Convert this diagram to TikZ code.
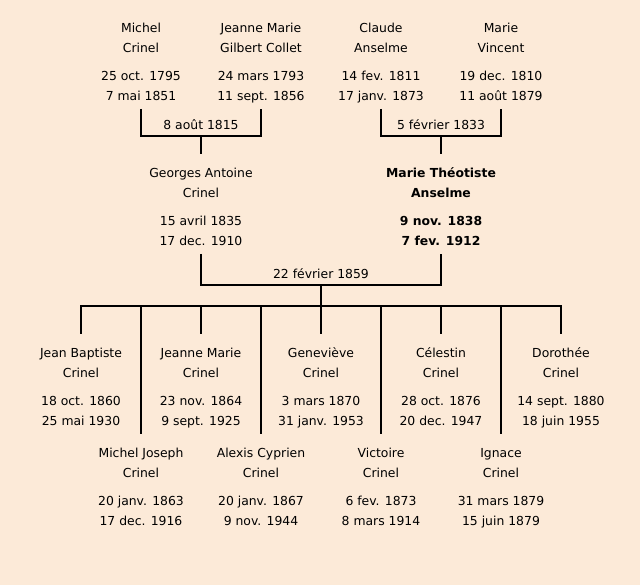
\documentclass[tikz,border=0pt]{standalone}
\usepackage{fontspec}
\setmainfont{DejaVu Sans}
\definecolor{bgc}{RGB}{252,234,216}
\newcommand{\persontext}[4]{\rule{0pt}{18.5pt}#1\\#2\\[8pt]#3\\#4\rule[-3.5pt]{0pt}{3.5pt}}
\tikzset{
  person/.style={anchor=north, align=center, inner sep=0pt, outer xsep=0pt, outer ysep=5pt,
    font=\fontsize{12.4}{20}\selectfont},
  boldperson/.style={person, font=\fontsize{12.4}{20}\selectfont\bfseries},
  datelabel/.style={anchor=base, inner sep=0pt, font=\fontsize{12.4}{14}\selectfont},
  link/.style={draw=black, line width=2pt}
}
\begin{document}
\begin{tikzpicture}[x=1pt,y=-1pt]
\fill[bgc] (0,0) rectangle (640,585);
\useasboundingbox (0,0) rectangle (640,585);
% grandparents
\node[person] (michel) at (141,9) {\persontext{Michel}{Crinel}{25 oct. 1795}{7 mai 1851}};
\node[person] (jeanne) at (261,9) {\persontext{Jeanne Marie}{Gilbert Collet}{24 mars 1793}{11 sept. 1856}};
\node[person] (claude) at (381,9) {\persontext{Claude}{Anselme}{14 fev. 1811}{17 janv. 1873}};
\node[person] (vincent) at (501,9) {\persontext{Marie}{Vincent}{19 dec. 1810}{11 août 1879}};
% parents
\node[person] (georges) at (201,154) {\persontext{Georges Antoine}{Crinel}{15 avril 1835}{17 dec. 1910}};
\node[boldperson] (theotiste) at (441,154) {\persontext{Marie Théotiste}{Anselme}{9 nov. 1838}{7 fev. 1912}};
% children row 1
\node[person] (jb) at (81,334) {\persontext{Jean Baptiste}{Crinel}{18 oct. 1860}{25 mai 1930}};
\node[person] (jm) at (201,334) {\persontext{Jeanne Marie}{Crinel}{23 nov. 1864}{9 sept. 1925}};
\node[person] (gen) at (321,334) {\persontext{Geneviève}{Crinel}{3 mars 1870}{31 janv. 1953}};
\node[person] (cel) at (441,334) {\persontext{Célestin}{Crinel}{28 oct. 1876}{20 dec. 1947}};
\node[person] (dor) at (561,334) {\persontext{Dorothée}{Crinel}{14 sept. 1880}{18 juin 1955}};
% children row 2
\node[person] (mj) at (141,434) {\persontext{Michel Joseph}{Crinel}{20 janv. 1863}{17 dec. 1916}};
\node[person] (ac) at (261,434) {\persontext{Alexis Cyprien}{Crinel}{20 janv. 1867}{9 nov. 1944}};
\node[person] (vic) at (381,434) {\persontext{Victoire}{Crinel}{6 fev. 1873}{8 mars 1914}};
\node[person] (ign) at (501,434) {\persontext{Ignace}{Crinel}{31 mars 1879}{15 juin 1879}};
% marriages
\coordinate (u1) at (201,136);
\coordinate (u2) at (441,136);
\coordinate (u3) at (321,285);
\coordinate (c) at (321,306);
\draw[link] (michel.south) |- (u1) -| (jeanne.south);
\draw[link] (u1) -- (georges.north);
\draw[link] (claude.south) |- (u2) -| (vincent.south);
\draw[link] (u2) -- (theotiste.north);
\draw[link] (georges.south) |- (u3) -| (theotiste.south);
\draw[link] (u3) -- (c);
\draw[link] (jb.north) |- (c) -| (dor.north);
\foreach \n in {mj,jm,ac,gen,vic,cel,ign}{\draw[link] (c -| \n.north) -- (\n.north);}
\node[datelabel] (d1) at (201,129.5) {8 août 1815};
\node[datelabel] (d2) at (441,129.5) {5 février 1833};
\node[datelabel] (d3) at (321,278.5) {22 février 1859};
\end{tikzpicture}
\end{document}
